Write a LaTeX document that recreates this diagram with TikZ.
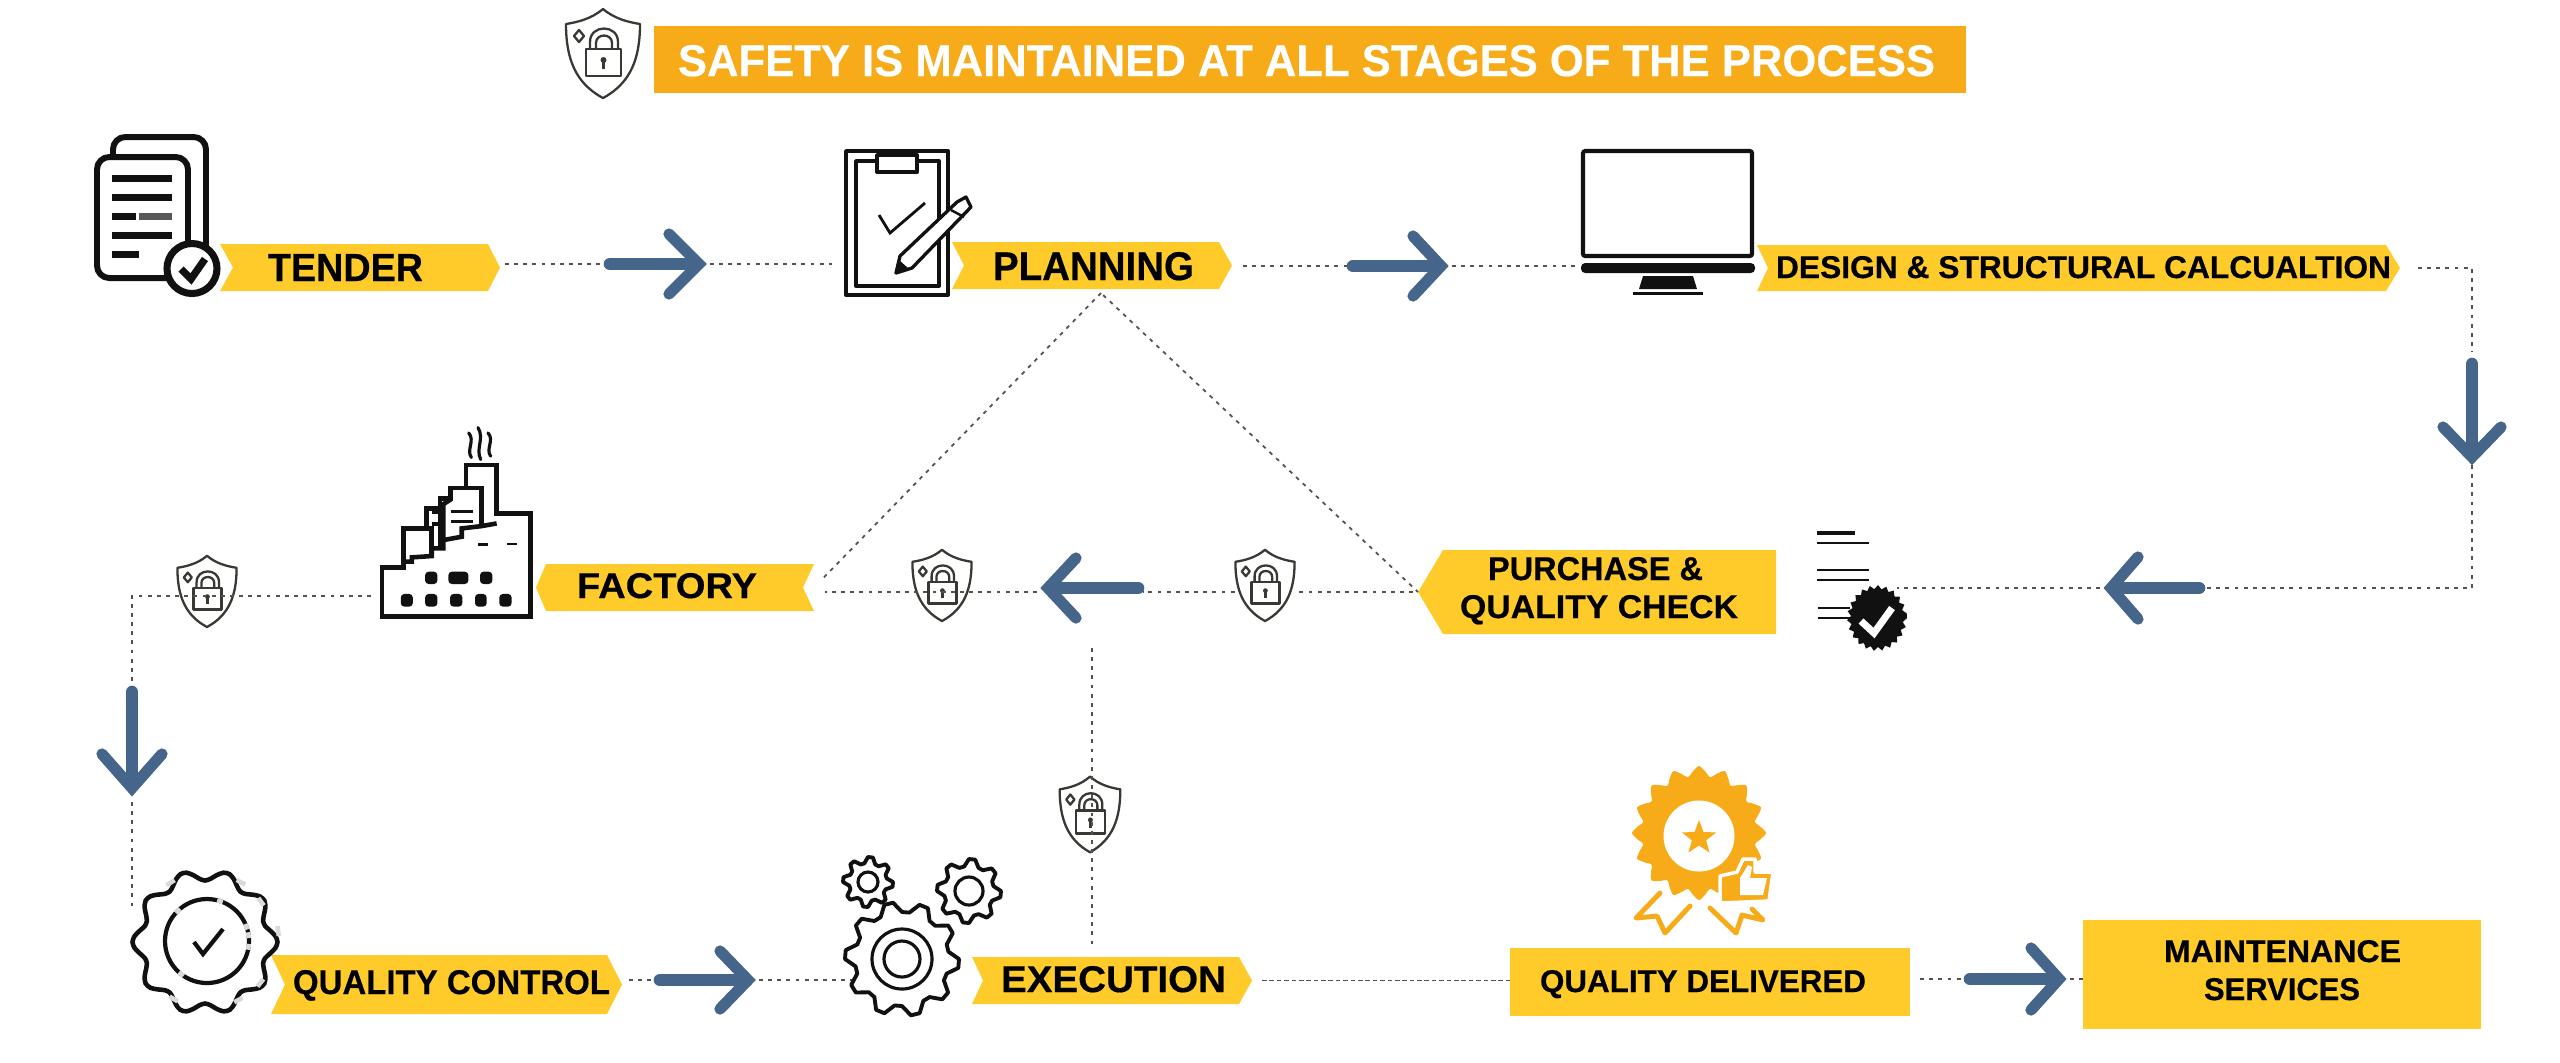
\documentclass[tikz,border=0pt]{standalone}
\usepackage{fontspec}
\usepackage{graphicx}
\setmainfont{Liberation Sans}[BoldFeatures={FakeBold=0.4}]
\definecolor{banY}{HTML}{FFCB2B}
\definecolor{titleO}{HTML}{F8AB18}
\definecolor{arrowB}{HTML}{45668A}
\definecolor{dotG}{HTML}{55524C}
\definecolor{iconK}{HTML}{111111}
\definecolor{shieldK}{HTML}{3A3832}
\definecolor{scuff}{HTML}{DADADA}
\tikzset{
  dotline/.style={draw=dotG,line width=.5pt,dash pattern=on 1.1pt off 1.5pt},
  iconline/.style={draw=iconK,line width=1.1pt,line join=round},
  iconthick/.style={draw=iconK,line width=1.7pt,line join=round},
  shaft/.style={draw=arrowB,line width=3.6pt,line cap=round},
  headv/.style={draw=arrowB,line width=3.2pt,line cap=round,line join=miter},
  slab/.style={inner sep=0pt,outer sep=0pt},
  shieldline/.style={draw=shieldK,line width=.65pt,line join=round},
}
% banner pointing right: name xl xr yt yb notch tip
\newcommand\banR[7]{%
  \fill[banY] (#2,#4) -- ({#3-#7},#4) -- (#3,{(#4+#5)/2}) -- ({#3-#7},#5) -- (#2,#5) -- ({#2+#6},{(#4+#5)/2}) -- cycle;
  \node[slab,minimum width={(#3-#2)*0.01cm},minimum height={(#5-#4)*0.01cm}] (#1) at ({(#2+#3)/2},{(#4+#5)/2}) {};}
% banner pointing left: name xl xr yt yb notch tip
\newcommand\banL[7]{%
  \fill[banY] ({#2+#7},#4) -- (#3,#4) -- ({#3-#6},{(#4+#5)/2}) -- (#3,#5) -- ({#2+#7},#5) -- (#2,{(#4+#5)/2}) -- cycle;
  \node[slab,minimum width={(#3-#2)*0.01cm},minimum height={(#5-#4)*0.01cm}] (#1) at ({(#2+#3)/2},{(#4+#5)/2}) {};}
% fitted bold text: [colour] name xl xr ytop ybase text
\newcommand\fittext[7][black]{%
  \pgfmathsetmacro\myw{(#4-#3)*0.01}\pgfmathsetmacro\myh{(#6-#5)*0.01}%
  \node[slab,anchor=base,text=#1] (#2) at ({(#3+#4)/2},#6) {\resizebox{\myw cm}{\myh cm}{\bfseries #7}};}
% arrow: name tipx tipy rotation length back halfwidth
\newcommand\bluearrow[7]{%
  \begin{scope}[shift={(#2,#3)},rotate=#4]
    \coordinate (#1-tip) at (0,0);
    \coordinate (#1-tail) at (-#5,0);
    \draw[shaft] (-#5+5,0) -- (-14,0);
    \draw[headv] (-#6+4,#7-4) -- (-4,0) -- (-#6+4,-#7+4);
  \end{scope}}
% shield icon: name cx cy xscale yscale
\newcommand\shield[5]{%
  \node[slab,minimum width={76*#4*0.01cm},minimum height={89*#5*0.01cm}] (#1) at (#2,#3) {};
  \begin{scope}[shift={(#2,#3)},xscale=#4,yscale=#5]
    \draw[shieldline] (0,-44) .. controls (12,-34) and (25,-31) .. (37,-29) .. controls (37,5) and (28,30) .. (0,45) .. controls (-28,30) and (-37,5) .. (-37,-29) .. controls (-25,-31) and (-12,-34) .. cycle;
    \draw[shieldline] (-17,-4) rectangle (18,23);
    \draw[shieldline] (-13,-4) -- (-13,-11) .. controls (-13,-29) and (15,-29) .. (15,-11) -- (15,-4);
    \draw[shieldline] (-7,-4) -- (-7,-10) .. controls (-7,-20) and (9,-20) .. (9,-10) -- (9,-4);
    \draw[shieldline] (-24,-23) -- (-19,-17) -- (-24,-11) -- (-29,-17) -- cycle;
    \fill[shieldK] (0.5,7) circle (3);
    \draw[shieldline] (0.5,9) -- (0.5,16);
  \end{scope}}
% gear outline
\newcommand\gearicon[5]{%
  \pgfmathtruncatemacro\gs{4*#5+1}%
  \begin{scope}[shift={(#1,#2)}]
    \draw[iconline] plot[samples=\gs,domain=0:360,variable=\t] ({(#4+(#3-#4)*(sin(#5*\t+45)>0))*cos(\t)},{(#4+(#3-#4)*(sin(#5*\t+45)>0))*sin(\t)}) -- cycle;
  \end{scope}}
\begin{document}
\begin{tikzpicture}[x=0.01cm,y=-0.01cm]
\useasboundingbox (0,0) rectangle (2560,1062);
\fill[white] (0,0) rectangle (2560,1062);

% ---------- title
\fill[titleO] (654,26) rectangle (1966,93);
\fittext[white]{title}{678}{1935}{45}{76}{SAFETY IS MAINTAINED AT ALL STAGES OF THE PROCESS}
\shield{s0}{603}{53}{1}{1}

% ---------- banners
\banR{tender}{220}{500}{244}{291}{13}{12}
\banR{planning}{952}{1232}{242}{289}{12}{13}
\banR{design}{1757}{2400}{245}{291}{11}{14}
\banL{purchase}{1418}{1776}{550}{634}{0}{25}
\banL{factory}{536}{814}{564}{611}{11}{10}
\banR{qc}{271}{622}{955}{1014}{14}{15}
\banR{execution}{972}{1252}{957}{1004}{11}{13}
\fill[banY] (1510,948) rectangle (1910,1016);
\node[slab,minimum width=4cm,minimum height=.68cm] (delivered) at (1710,982) {};
\fill[banY] (2083,920) rectangle (2481,1029);
\node[slab,minimum width=3.98cm,minimum height=1.09cm] (maintenance) at (2282,974.5) {};

% ---------- labels
\fittext{tendert}{268}{423}{254}{281}{TENDER}
\fittext{planningt}{993}{1194}{252}{280}{PLANNING}
\fittext{designt}{1776}{2391}{256}{278}{DESIGN \& STRUCTURAL CALCUALTION}
\fittext{purchaset1}{1488}{1703}{557}{580}{PURCHASE \&}
\fittext{purchaset2}{1460}{1738}{595}{618}{QUALITY CHECK}
\fittext{factoryt}{577}{757}{573}{598}{FACTORY}
\fittext{qct}{293}{610}{970}{994}{QUALITY CONTROL}
\fittext{executiont}{1001}{1226}{966}{992}{EXECUTION}
\fittext{deliveredt}{1540}{1866}{970}{992}{QUALITY DELIVERED}
\fittext{maintt1}{2164}{2401}{940}{962}{MAINTENANCE}
\fittext{maintt2}{2204}{2360}{978}{1000}{SERVICES}

% ---------- arrows
\bluearrow{a1}{703}{264}{0}{98}{38}{34}
\bluearrow{a2}{1445}{266}{0}{97}{36}{34}
\bluearrow{a3}{2472}{461}{-90}{102}{38}{33}
\bluearrow{a4}{2107}{588}{180}{97}{35}{35}
\bluearrow{a5}{1044}{588}{180}{99}{36}{34}
\bluearrow{a6}{132}{792}{-90}{105}{42}{34}
\bluearrow{a7}{752}{980}{0}{97}{36}{33}
\bluearrow{a8}{2063}{979}{0}{98}{36}{35}

% ---------- shields
\shield{s1}{207}{591}{.8}{.8}
\shield{s2}{942}{585}{.8}{.8}
\shield{s3}{1265}{585}{.8}{.8}
\shield{s4}{1090}{814}{.82}{.85}

% ---------- named free ends
\coordinate (apex) at (1101,293);
\coordinate (plan-icon) at (832,264);
\coordinate (screen) at (1575,266);
\coordinate (check-icon) at (1897,588);
\coordinate (factory-icon) at (371,596);
\coordinate (qc-icon) at (132,910);
\coordinate (gear-icon) at (853,980);
\coordinate (fleft) at (132,596);
\coordinate (exec-top) at (1092,648);
\coordinate (exec-end) at (1092,947);

% ---------- connectors
\draw[dotline,shorten <=.05cm] (tender.east |- a1-tail) -- (a1-tail);
\draw[dotline,shorten <=.07cm] (a1-tip) -- (plan-icon);
\draw[dotline,shorten <=.11cm] (planning.east |- a2-tail) -- (a2-tail);
\draw[dotline,shorten <=.07cm] (a2-tip) -- (screen);
\draw[dotline,shorten <=.18cm,shorten >=.07cm] (design.east) -| (a3-tail);
\draw[dotline,shorten <=.04cm] (a3-tip) |- (a4-tail);
\draw[dotline,shorten <=.07cm] (a4-tip) -- (check-icon);
\draw[dotline,shorten <=.05cm] (purchase.west) -- (s3.east |- purchase.west);
\draw[dotline] (s3.west |- purchase.west) -- (a5-tail |- purchase.west);
\draw[dotline,shorten <=.07cm,shorten >=.11cm] (a5-tip |- purchase.west) -- (factory.east |- purchase.west);
\draw[dotline,shorten <=.03cm] (apex) -- (purchase.west);
\draw[dotline,shorten >=.11cm] (apex) -- (factory.east);
\draw[dotline] (factory-icon) -- (fleft) -- (a6-tail);
\draw[dotline,shorten <=.1cm] (a6-tip) -- (qc-icon);
\draw[dotline,shorten <=.07cm] (qc.east |- a7-tail) -- (a7-tail);
\draw[dotline,shorten <=.07cm] (a7-tip) -- (gear-icon);
\draw[dotline] (exec-top) -- (exec-end);
\draw[dotline,dash pattern=on 1.3pt off .8pt,shorten <=.1cm] (execution.east) -- (delivered.west |- execution.east);
\draw[dotline,shorten <=.1cm] (delivered.east |- a8-tail) -- (a8-tail);
\draw[dotline,shorten <=.07cm] (a8-tip) -- (maintenance.west |- a8-tip);

% ---------- tender icon
\draw[iconthick,rounded corners=3.5pt] (113,156) -- (113,137) -- (206,137) -- (206,248);
\draw[iconthick,fill=white,rounded corners=3.5pt] (97,157) rectangle (188,278);
\foreach \yy/\xe in {178/172,197.5/172,235.5/172,254.5/139} \fill[iconK] (112,\yy-3.5) rectangle (\xe,\yy+3.5);
\fill[iconK] (112,213) rectangle (136,220);
\fill[iconK!70] (139,213) rectangle (172,220);
\draw[iconK,fill=white,line width=2pt] (192,268.5) circle (25);
\draw[iconK,line width=2.1pt] (181,269) -- (191,279) -- (205,259);

% ---------- planning icon
\draw[iconline,fill=white] (846,151) rectangle (948,295);
\draw[iconline] (856,161) rectangle (939,286);
\draw[iconline,fill=white] (877,155) rectangle (917,172);
\draw[iconK,line width=.8pt] (879,215) -- (890,233) -- (925,203);
\draw[iconline,fill=white,line width=.95pt] (896,273) -- (900,256) -- (957,202) -- (966,197) -- (971,207) -- (912,268) -- cycle;
\fill[iconK] (896,273) -- (899,260) -- (908,268) -- cycle;
\draw[iconline,line width=.7pt] (951,210) -- (964,217);

% ---------- monitor
\draw[iconK,line width=1.15pt,rounded corners=.6pt] (1583,151) rectangle (1752,256);
\fill[iconK,rounded corners=1.2pt] (1581,263) -- (1755,263) -- (1755,273) -- (1581,273) -- cycle;
\fill[iconK] (1643,276) -- (1693,276) -- (1697,289) -- (1639,289) -- cycle;
\fill[iconK] (1633,292) rectangle (1703,295);

% ---------- purchase check icon
\fill[iconK] (1817,531) rectangle (1855,535);
\foreach \yy in {543,570,580} \fill[iconK] (1817,\yy-1.3) rectangle (1869,\yy+1.3);
\foreach \yy in {608,618} \fill[iconK] (1818,\yy-1.3) rectangle (1850,\yy+1.3);
\fill[iconK] plot[samples=45,domain=0:352,variable=\t] ({(30-(mod(round(\t/8),2)==0 ? 0 : 4))*cos(\t)+1877},{(33-(mod(round(\t/8),2)==0 ? 0 : 4))*sin(\t)+618}) -- cycle;
\draw[white,line width=2pt] (1861,621) -- (1874,633) -- (1892,608);

% ---------- factory icon
\begin{scope}[shift={(3.6cm,-4.2cm)},x=0.003333cm,y=-0.003333cm]
  \tikzset{fl/.style={draw=iconK,line width=1.3pt,line join=miter}}
  \draw[fl] (65,590) -- (65,442) -- (130,442) -- (130,325) -- (200,325) -- (200,265) -- (240,265) -- (240,235) -- (272,235) -- (272,203) -- (318,203) -- (318,135) -- (410,135) -- (410,280) -- (512,280) -- (512,590) -- cycle;
  \draw[fl] (130,425) -- (155,425) -- (155,412) -- (215,408) -- (215,385) -- (250,385) -- (250,360) -- (305,350) -- (305,325) -- (365,318) -- (410,310);
  \draw[fl] (200,325) -- (215,325) -- (215,408);
  \draw[fl] (215,275) -- (240,275) -- (240,385);
  \draw[fl] (215,312) -- (240,312);
  \draw[fl] (250,360) -- (250,252) -- (272,238);
  \draw[fl] (272,203) -- (365,203) -- (365,318);
  \draw[iconK,line width=.85pt] (272,273) -- (338,273) (272,304) -- (338,304);
  \foreach \xa/\xb in {195/232,265/325,360/397} \fill[iconK,rounded corners=1pt] (\xa,455) rectangle (\xb,492);
  \foreach \xa/\xb in {122/158,195/232,270/307,345/380,418/455} \fill[iconK,rounded corners=1pt] (\xa,522) rectangle (\xb,560);
  \fill[iconK] (355,368) rectangle (385,377);
  \fill[iconK] (440,370) rectangle (472,376);
  \foreach \xa/\yt/\yb in {332/38/112,360/22/118,390/38/108} \draw[iconK,line width=.9pt,line cap=round] (\xa-6,\yt) .. controls (\xa+14,{(\yt+\yb)/2-14}) and (\xa-14,{(\yt+\yb)/2+14}) .. (\xa+2,\yb);
\end{scope}

% ---------- quality control icon
\draw[iconK,line width=1.3pt] plot[smooth cycle,samples=72,domain=0:355,variable=\t] ({(67+5.5*cos(10*\t))*cos(\t)+205},{(67+5.5*cos(10*\t))*sin(\t)+942});
\draw[iconK,line width=1.2pt] (207,941) circle (42);
\draw[iconK,line width=1.2pt] (194,942) -- (203,954) -- (223,929);
\foreach \aa/\rr in {-72/42,-20/42,-8/42,8/42,128/42,226/42,
                     -60/68,-36/67,-8/72,38/68,62/67,120/67,-122/69} {%
  \draw[scuff,line width=1.3pt] ({\rr*cos(\aa-4)+207},{\rr*sin(\aa-4)+941}) -- ({\rr*cos(\aa+4)+207},{\rr*sin(\aa+4)+941});}

% ---------- gears
\gearicon{902}{959}{57}{47}{10}
\gearicon{868}{882}{25}{19}{8}
\gearicon{969}{891}{32}{25}{8}
\draw[iconline,line width=.9pt] (902,959) circle (30) (902,959) circle (18);
\draw[iconline,line width=.9pt] (868,882) circle (10);
\draw[iconline,line width=.9pt] (969,891) circle (14);

% ---------- rosette
\fill[titleO] plot[smooth cycle,samples=64,domain=0:354.4,variable=\t] ({(62+5*cos(16*\t))*cos(\t)+1699},{(62+5*cos(16*\t))*sin(\t)+833});
\fill[white] (1699,836) circle (35.5);
\fill[titleO] plot[samples=10,domain=0:324,variable=\t] ({(mod(round(\t/36),2)==0 ? 18 : 7.5)*sin(\t)+1699},{-(mod(round(\t/36),2)==0 ? 18 : 7.5)*cos(\t)+838}) -- cycle;
\draw[titleO,line width=1.4pt,line join=round,line cap=round] (1660,893) -- (1636,918) -- (1657,916) -- (1665,933) -- (1690,906);
\draw[titleO,line width=1.4pt,line join=round,line cap=round] (1710,908) -- (1736,933) -- (1742,915) -- (1763,920) -- (1752,909);
\fill[titleO,draw=white,line width=1pt,line join=round] (1720,876) -- (1737,872) -- (1743,859) -- (1755,859) -- (1755,872) -- (1773,872) -- (1769,901) -- (1720,903) -- cycle;
\fill[white] (1740,878) -- (1748,865) -- (1752,867) -- (1750,878) -- (1767,878) -- (1763,895) -- (1740,895) -- cycle;
\end{tikzpicture}
\end{document}
